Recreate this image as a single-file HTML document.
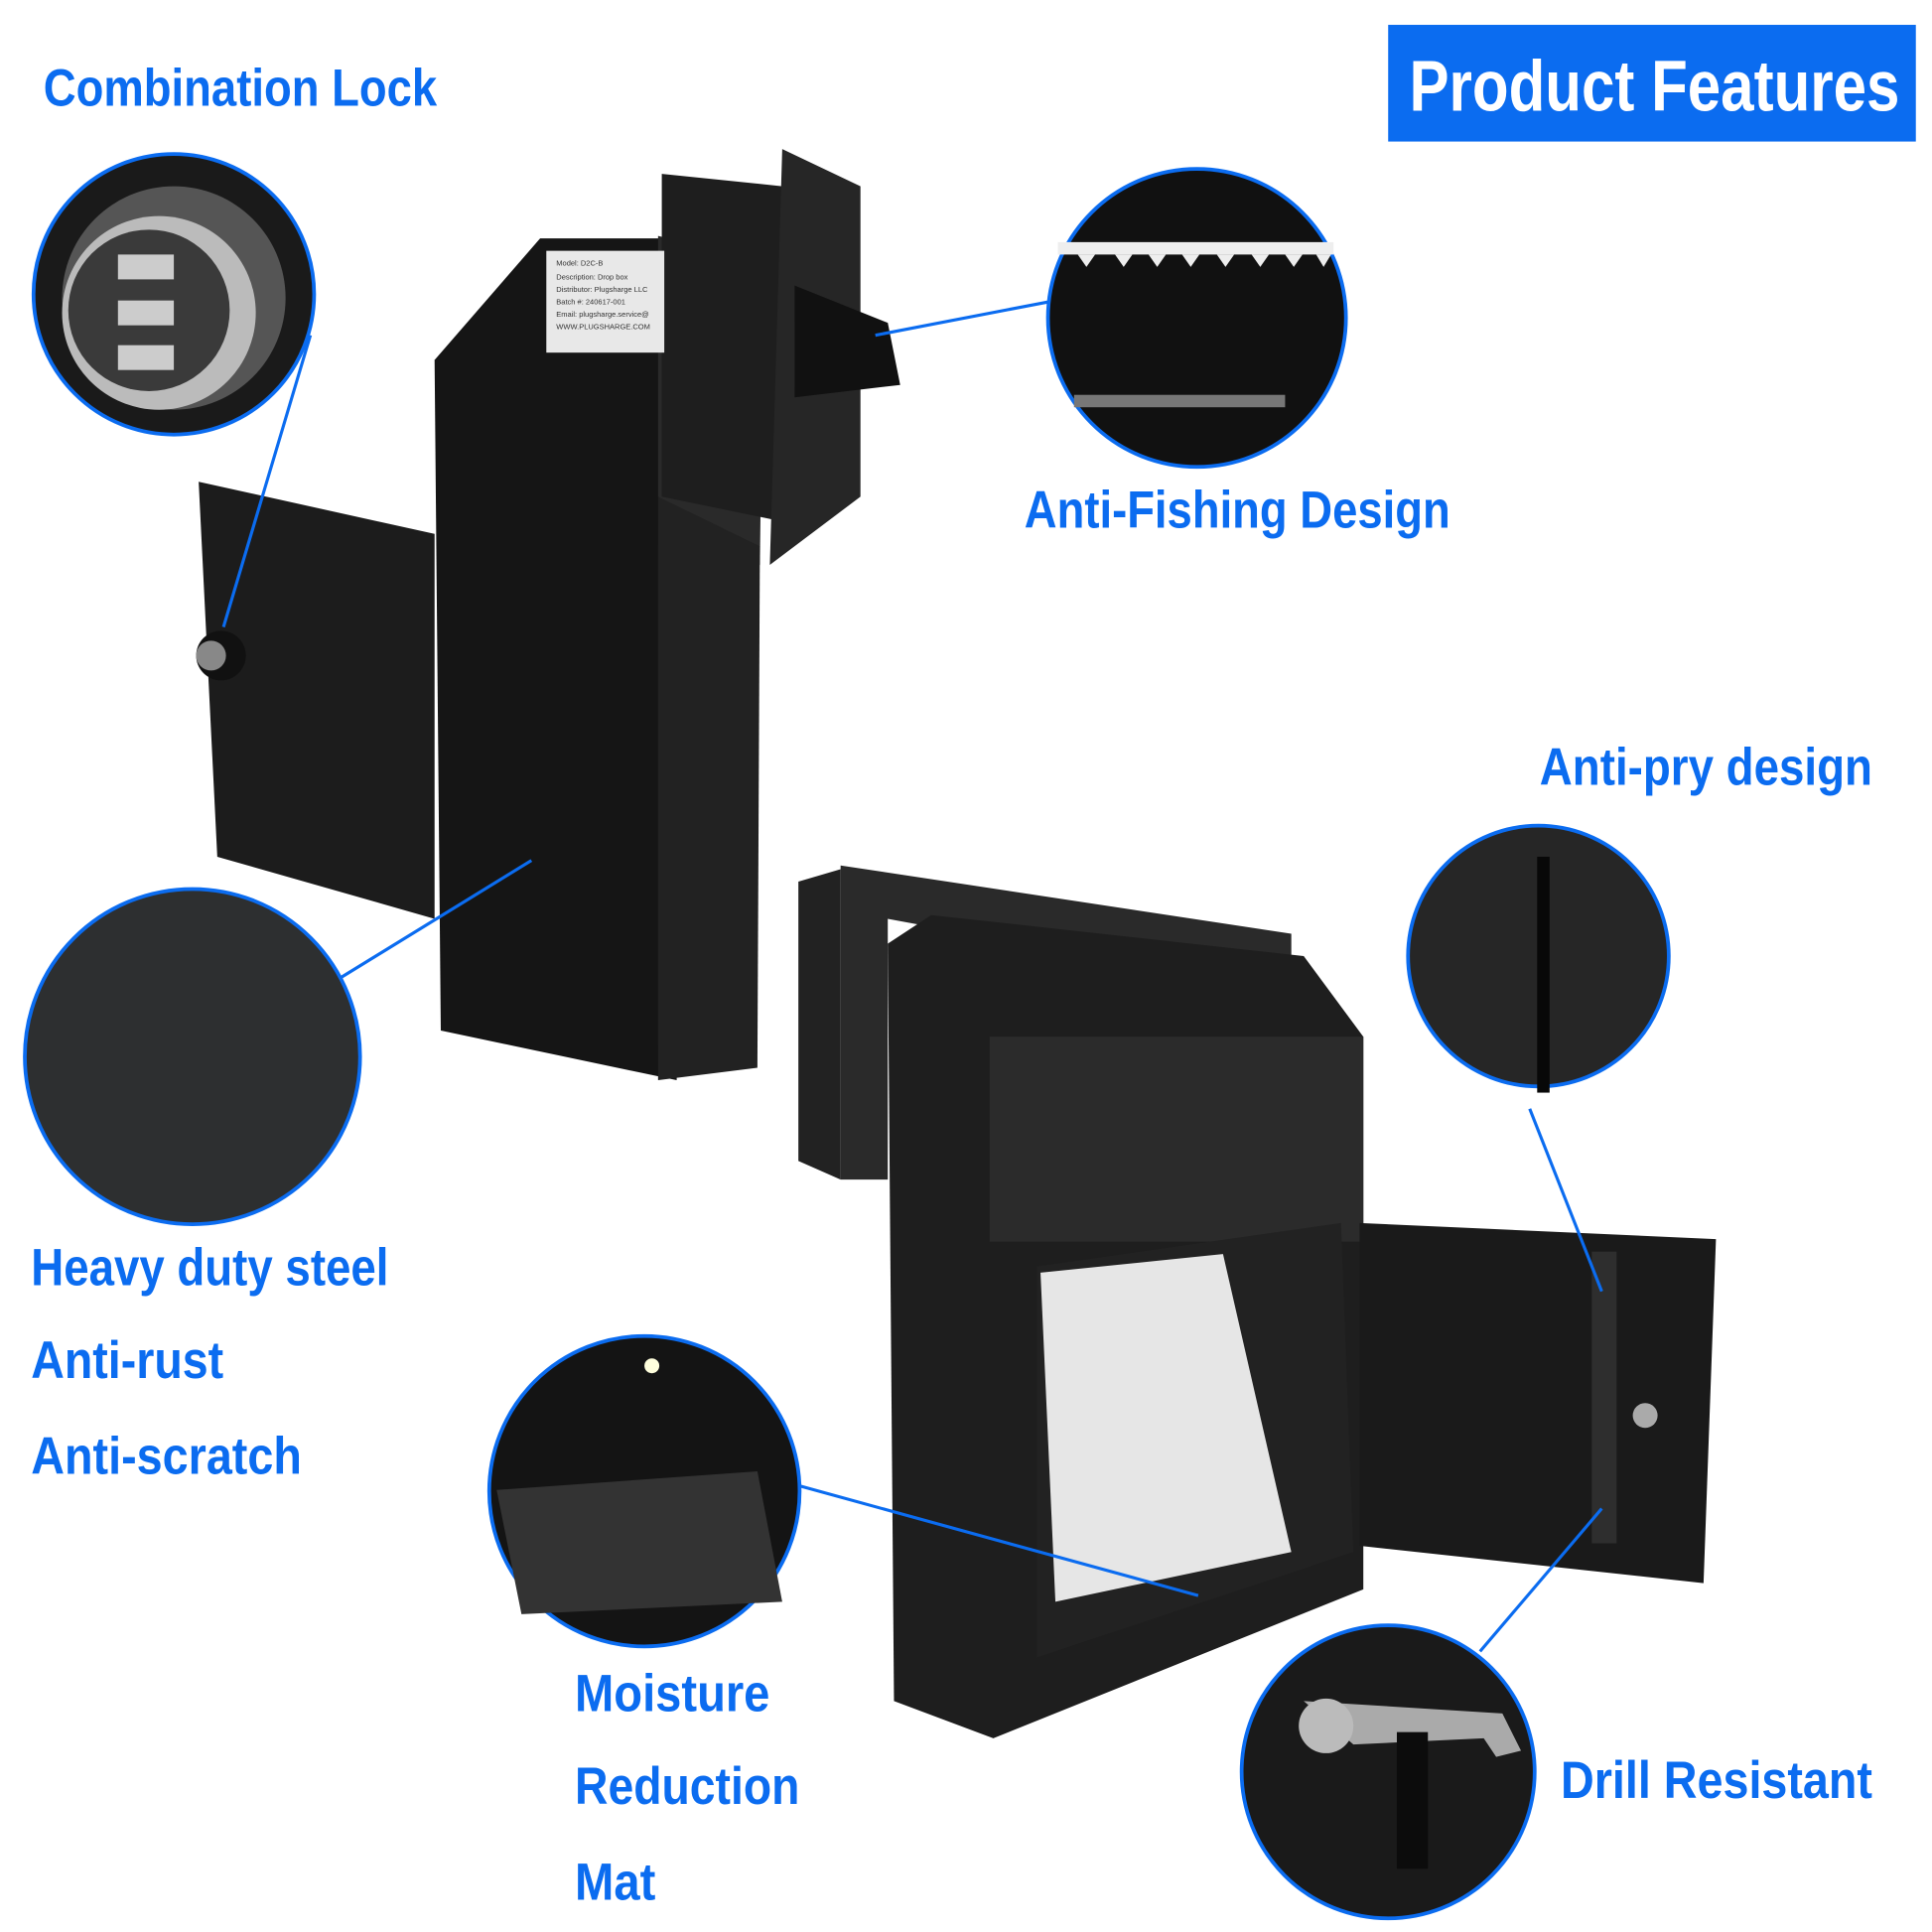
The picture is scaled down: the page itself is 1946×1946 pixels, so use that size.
<!DOCTYPE html>
<html><head><meta charset="utf-8"><style>
html,body{margin:0;padding:0;background:#fff;}
svg{display:block}
.t{font-family:"Liberation Sans Narrow","Liberation Sans",sans-serif;font-weight:bold;fill:#0b6cf0;}
</style></head><body>
<svg width="1946" height="1946" viewBox="0 0 1556 1556" xmlns="http://www.w3.org/2000/svg">
<rect width="1556" height="1556" fill="#fff"/>
<!-- Top product -->
<polygon points="160,388 350,430 350,740 175,690" fill="#1c1c1c"/>
<polygon points="350,290 435,192 545,192 545,870 355,830" fill="#151515"/>
<polygon points="530,190 615,210 612,455 530,400" fill="#2a2a2a"/>
<polygon points="530,400 612,440 610,860 530,870" fill="#222"/>
<polygon points="533,140 630,150 630,420 533,400" fill="#1e1e1e"/>
<polygon points="630,120 693,150 693,400 620,455" fill="#262626"/>
<rect x="440" y="202" width="95" height="82" fill="#e8e8e8"/>
<g font-family="Liberation Sans" font-size="6" fill="#333">
<text x="448" y="214">Model: D2C-B</text><text x="448" y="225">Description: Drop box</text>
<text x="448" y="235">Distributor: Plugsharge LLC</text><text x="448" y="245">Batch #: 240617-001</text>
<text x="448" y="255">Email: plugsharge.service@</text><text x="448" y="265">WWW.PLUGSHARGE.COM</text></g>
<polygon points="640,230 715,260 725,310 640,320" fill="#111"/>
<circle cx="178" cy="528" r="20" fill="#111"/><circle cx="170" cy="528" r="12" fill="#888"/>
<!-- Bottom product -->
<polygon points="643,710 677,700 677,950 643,935" fill="#222"/>
<polygon points="677,697 1040,752 1040,800 715,740 715,950 677,950" fill="#2a2a2a"/>
<polygon points="715,760 750,737 1050,770 1098,835 1098,1280 800,1400 720,1370" fill="#1e1e1e"/>
<polygon points="797,835 1098,835 1098,1000 797,1000" fill="#2b2b2b"/>
<polygon points="835,1020 1080,985 1090,1250 835,1335" fill="#222"/>
<polygon points="838,1025 985,1010 1040,1250 850,1290" fill="#e6e6e6"/>
<polygon points="1095,985 1382,998 1372,1275 1095,1245" fill="#1a1a1a"/>
<rect x="1282" y="1008" width="20" height="235" fill="#2e2e2e"/>
<circle cx="1325" cy="1140" r="10" fill="#aaa"/>
<!-- circles -->
<circle cx="140" cy="237" r="113" fill="#1a1a1a" stroke="#0b6cf0" stroke-width="3"/>
<circle cx="140" cy="240" r="90" fill="#555"/><circle cx="128" cy="252" r="78" fill="#bbb"/>
<circle cx="120" cy="250" r="65" fill="#3a3a3a"/>
<rect x="95" y="205" width="45" height="20" fill="#ccc"/><rect x="95" y="242" width="45" height="20" fill="#ccc"/><rect x="95" y="278" width="45" height="20" fill="#ccc"/>
<circle cx="964" cy="256" r="120" fill="#111" stroke="#0b6cf0" stroke-width="3"/>
<rect x="852" y="195" width="222" height="10" fill="#eee"/>
<g fill="#eee"><polygon points="868,205 882,205 875,215"/><polygon points="898,205 912,205 905,215"/><polygon points="925,205 939,205 932,215"/><polygon points="952,205 966,205 959,215"/><polygon points="980,205 994,205 987,215"/><polygon points="1008,205 1022,205 1015,215"/><polygon points="1035,205 1049,205 1042,215"/><polygon points="1060,205 1072,205 1066,215"/></g>
<rect x="865" y="318" width="170" height="10" fill="#777"/>
<circle cx="155" cy="851" r="135" fill="#2d2f30" stroke="#0b6cf0" stroke-width="3"/>
<circle cx="519" cy="1201" r="125" fill="#141414" stroke="#0b6cf0" stroke-width="3"/>
<polygon points="400,1200 610,1185 630,1290 420,1300" fill="#333"/>
<circle cx="525" cy="1100" r="6" fill="#ffd"/>
<circle cx="1239" cy="770" r="105" fill="#262626" stroke="#0b6cf0" stroke-width="3"/>
<rect x="1238" y="690" width="10" height="190" fill="#080808"/>
<circle cx="1118" cy="1427" r="118" fill="#1a1a1a" stroke="#0b6cf0" stroke-width="3"/>
<path d="M1050,1370 L1210,1380 L1225,1410 L1205,1415 L1195,1400 L1090,1405 Z" fill="#aaa"/>
<circle cx="1068" cy="1390" r="22" fill="#bbb"/>
<rect x="1125" y="1395" width="25" height="110" fill="#0c0c0c"/>
<!-- lines -->
<g stroke="#0b6cf0" stroke-width="2.5" fill="none">
<line x1="250" y1="270" x2="180" y2="505"/>
<line x1="705" y1="270" x2="845" y2="243"/>
<line x1="275" y1="787" x2="428" y2="693"/>
<line x1="645" y1="1197" x2="965" y2="1285"/>
<line x1="1232" y1="893" x2="1290" y2="1040"/>
<line x1="1192" y1="1330" x2="1290" y2="1215"/>
</g>
<!-- header -->
<rect x="1118" y="20" width="425" height="94" fill="#0b6cf0"/>
<text x="1135" y="89" font-size="58" class="t" style="fill:#fff" textLength="395" lengthAdjust="spacingAndGlyphs">Product Features</text>
<text x="35" y="85" font-size="42" class="t" textLength="317" lengthAdjust="spacingAndGlyphs">Combination Lock</text>
<text x="825" y="425" font-size="42" class="t" textLength="343" lengthAdjust="spacingAndGlyphs">Anti-Fishing Design</text>
<text x="1240" y="632" font-size="42" class="t" textLength="268" lengthAdjust="spacingAndGlyphs">Anti-pry design</text>
<text x="25" y="1035" font-size="42" class="t" textLength="288" lengthAdjust="spacingAndGlyphs">Heavy duty steel</text>
<text x="25" y="1110" font-size="42" class="t" textLength="155" lengthAdjust="spacingAndGlyphs">Anti-rust</text>
<text x="25" y="1187" font-size="42" class="t" textLength="218" lengthAdjust="spacingAndGlyphs">Anti-scratch</text>
<text x="463" y="1378" font-size="42" class="t" textLength="157" lengthAdjust="spacingAndGlyphs">Moisture</text>
<text x="463" y="1453" font-size="42" class="t" textLength="181" lengthAdjust="spacingAndGlyphs">Reduction</text>
<text x="463" y="1530" font-size="42" class="t" textLength="65" lengthAdjust="spacingAndGlyphs">Mat</text>
<text x="1257" y="1448" font-size="42" class="t" textLength="251" lengthAdjust="spacingAndGlyphs">Drill Resistant</text>
</svg>
</body></html>
